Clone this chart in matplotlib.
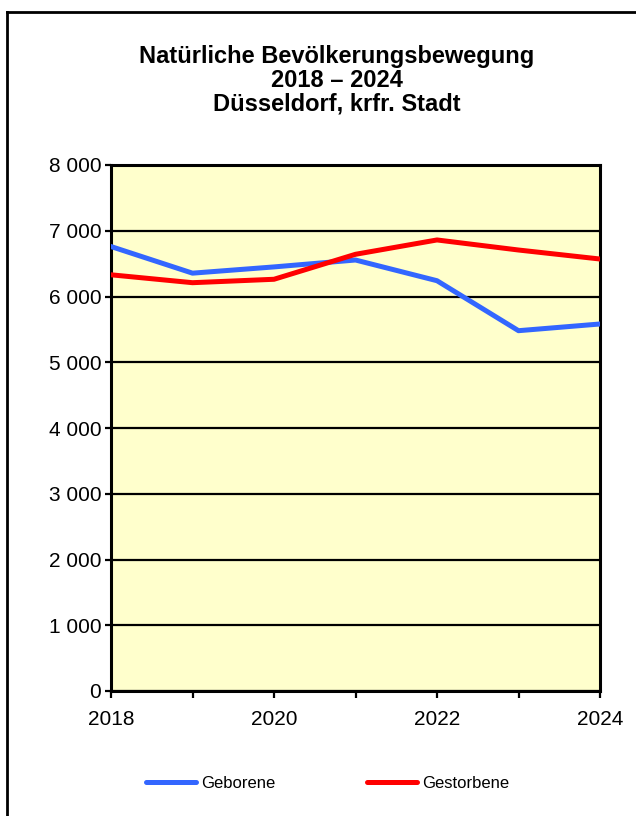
import matplotlib
matplotlib.use("Agg")
import matplotlib.pyplot as plt
from matplotlib.lines import Line2D
from matplotlib.ticker import FuncFormatter, MultipleLocator

plt.rcParams['font.family'] = ['Liberation Sans', 'DejaVu Sans']

years = [2018, 2019, 2020, 2021, 2022, 2023, 2024]
geborene = [6760, 6355, 6450, 6555, 6240, 5480, 5582]
gestorbene = [6330, 6210, 6262, 6642, 6860, 6707, 6570]

title = "Natürliche Bevölkerungsbewegung\n2018 – 2024\nDüsseldorf, krfr. Stadt"

fig = plt.figure(figsize=(6.36, 8.16), dpi=100)
ax = fig.add_axes([111 / 636, 1 - 691 / 816, 489 / 636, 526 / 816])
ax.set_facecolor('#FFFFCC')

ax.plot(years, geborene, color='#3366FF', lw=3.6, label='Geborene', zorder=3)
ax.plot(years, gestorbene, color='#FF0000', lw=3.6, label='Gestorbene', zorder=3)

ax.set_xlim(2018, 2024)
ax.set_ylim(0, 8000)
ax.xaxis.set_major_locator(MultipleLocator(2))
ax.xaxis.set_minor_locator(MultipleLocator(1))
ax.yaxis.set_major_locator(MultipleLocator(1000))
ax.yaxis.set_major_formatter(FuncFormatter(lambda v, p: f"{int(v):,}".replace(",", " ")))
ax.grid(axis='y', color='black', lw=1.6, zorder=1)
for s in ax.spines.values():
    s.set_linewidth(2.2)
ax.tick_params(axis='y', length=4, width=1.6, pad=3, labelsize=15)
ax.tick_params(axis='x', which='both', length=5, width=1.6, pad=8.5, labelsize=15)

fig.text(337 / 636, 1 - 80.5 / 816, title, ha='center', va='center', fontsize=17,
         fontweight='bold', linespacing=1.05)

# legend drawn in figure coords
for x0, x1, col, lab in [(143, 198, '#3366FF', 'Geborene'), (364, 419, '#FF0000', 'Gestorbene')]:
    fig.add_artist(Line2D([(x0 + 2.5) / 636, (x1 - 2.5) / 636], [1 - 782 / 816] * 2,
                          color=col, lw=3.6, solid_capstyle='round'))
    fig.text((x1 + 3) / 636, 1 - 783 / 816, lab, ha='left', va='center', fontsize=12)

# outer frame (left and top edges visible)
fig.add_artist(Line2D([7 / 636, 7 / 636], [0, 1 - 11.5 / 816], color='black', lw=2))
fig.add_artist(Line2D([7 / 636, 1], [1 - 11.5 / 816] * 2, color='black', lw=2))

fig.savefig("out.png", dpi=100)
